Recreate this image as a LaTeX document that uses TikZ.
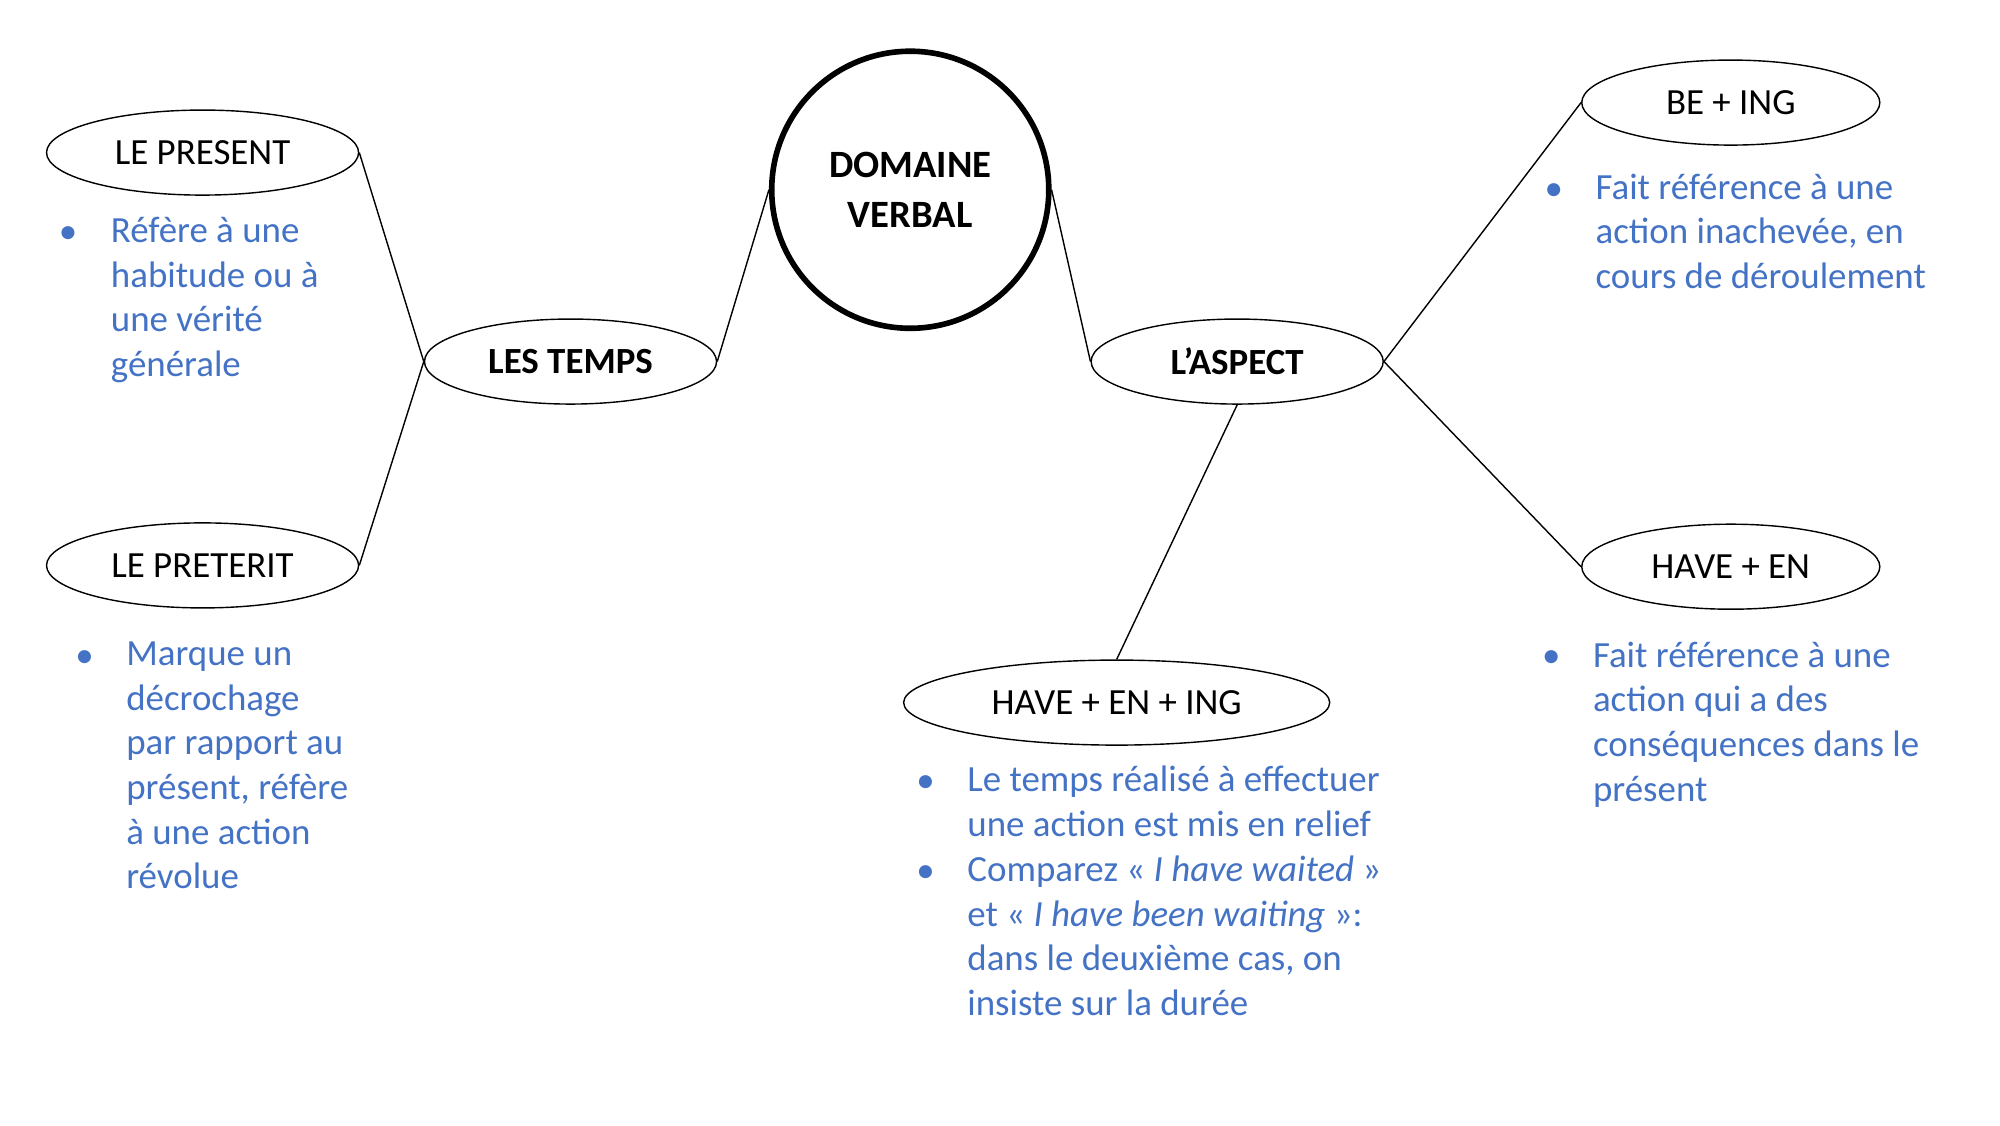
\documentclass[tikz,border=0pt]{standalone}
\usepackage{fontspec}
\setmainfont{Carlito}
\usetikzlibrary{shapes.geometric,positioning}
\definecolor{noteblue}{RGB}{68,114,196}
\begin{document}
\begin{tikzpicture}[x=0.01282cm,y=-0.01282cm]
\tikzstyle{topic}=[ellipse,draw=black,inner sep=0pt,minimum height=0.85cm,
font=\fontsize{10.5}{12.7}\selectfont]
\tikzstyle{note}=[anchor=north west,inner sep=0pt,align=left,text=noteblue,
font=\fontsize{10.5}{12.7}\selectfont]
\tikzstyle{dot}=[anchor=base,inner sep=0pt,text=noteblue,font=\fontsize{10.5}{12.7}\selectfont]
\useasboundingbox (0,0) rectangle (1560,877.5);
\node[circle,draw=black,line width=1.6pt,minimum size=2.77cm,align=center,
font=\fontsize{11}{14}\selectfont\bfseries] at (710,148) (dv) {DOMAINE\\VERBAL};
\node[topic,minimum width=3.12cm] at (158,119) (pres) {LE PRESENT};
\node[topic,minimum width=2.92cm,font=\fontsize{10.5}{12.7}\selectfont\bfseries] at (445,282) (temps) {LES TEMPS};
\node[topic,minimum width=3.12cm] at (158,441) (pret) {LE PRETERIT};
\node[topic,minimum width=2.92cm,font=\fontsize{10.5}{12.7}\selectfont\bfseries] at (965,282) (asp) {L’ASPECT};
\node[topic,minimum width=2.98cm] at (1350,80) (being) {BE + ING};
\node[topic,minimum width=2.98cm] at (1350,442) (haveen) {HAVE + EN};
\node[topic,minimum width=4.26cm] at (871,548) (haveening) {HAVE + EN + ING};

% notes
\node[dot] at (53,190) (b1) {•};
\node[note] at (86,169) (n1) {Réfère à une\\habitude ou à\\une vérité\\générale};
\node[dot] at (66,521) (b2) {•};
\node[note] at (98,500) (n2) {Marque un\\décrochage\\par rapport au\\présent, réfère\\à une action\\révolue};
\node[dot] at (1212,156) (b3) {•};
\node[note] at (1244,135) (n3) {Fait référence à une\\action inachevée, en\\cours de déroulement};
\node[dot] at (1210,521) (b4) {•};
\node[note] at (1242,500) (n4) {Fait référence à une\\action qui a des\\conséquences dans le\\présent};
\node[dot] at (722,618) (b5) {•};
\node[note] at (754,597) (n5) {Le temps réalisé à effectuer\\une action est mis en relief};
\node[dot] at (722,688) (b6) {•};
\node[note] at (754,667) (n6) {Comparez « \textit{I have waited} »\\et « \textit{I have been waiting} »:\\dans le deuxième cas, on\\insiste sur la durée};

\path[draw,thin] (pres.east) -- (temps.west);
\path[draw,thin] (pret.east) -- (temps.west);
\path[draw,thin] (temps.east) -- (dv.west);
\path[draw,thin] (dv.east) -- (asp.west);
\path[draw,thin] (asp.east) -- (being.west);
\path[draw,thin] (asp.east) -- (haveen.west);
\path[draw,thin] (asp.south) -- (haveening.north);
\end{tikzpicture}
\end{document}
